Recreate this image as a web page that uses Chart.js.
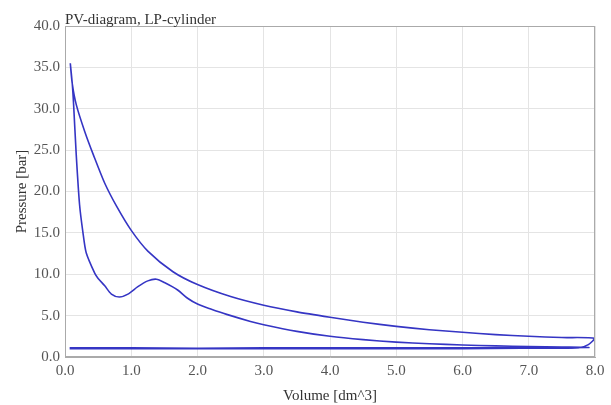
<!DOCTYPE html>
<html>
<head>
<meta charset="utf-8">
<script src="https://cdn.jsdelivr.net/npm/chart.js@4/dist/chart.umd.min.js"></script>
<style>
  html, body { margin: 0; padding: 0; background: #fff; }
  #wrap { width: 611px; height: 405px; }
</style>
</head>
<body>
<div id="wrap"><canvas id="pvChart" width="611" height="405"></canvas></div>
<script>
// volume [dm^3] and pressure [bar], traced along the loop
const volume = [
  0.07, 1.0, 2.0, 3.0, 4.0, 5.0, 6.0, 7.0, 7.75, 7.9, 8.0,
  7.5, 7.0, 6.5, 6.0, 5.5, 5.0, 4.5, 4.0, 3.5, 3.0, 2.5, 2.0, 1.63, 1.25, 1.0, 0.78, 0.6, 0.43, 0.3, 0.17, 0.11, 0.08,
  0.11, 0.13, 0.17, 0.22, 0.27, 0.32, 0.45, 0.5, 0.6, 0.7, 0.82, 0.95, 1.1, 1.25, 1.38, 1.5, 1.7, 1.85, 2.0, 2.2, 2.44, 2.8, 3.0, 3.5, 4.0, 4.5, 5.0, 5.5, 6.0, 6.5, 7.0, 7.5, 7.9,
  6.0, 4.0, 2.0, 0.07
];
const pressure = [
  1.1, 1.1, 1.05, 1.1, 1.1, 1.1, 1.1, 1.1, 1.1, 1.5, 2.25,
  2.35, 2.5, 2.7, 3.0, 3.3, 3.7, 4.2, 4.8, 5.45, 6.25, 7.3, 8.75, 10.3, 12.8, 15.3, 18.2, 21.0, 24.4, 27.2, 30.5, 33.0, 35.5,
  33.0, 30.5, 24.4, 18.4, 15.1, 12.6, 10.1, 9.5, 8.6, 7.6, 7.25, 7.6, 8.5, 9.2, 9.4, 9.0, 8.1, 7.1, 6.4, 5.8, 5.15, 4.3, 3.9, 3.1, 2.5, 2.1, 1.8, 1.6, 1.45, 1.35, 1.25, 1.2, 1.15,
  1.0, 1.0, 1.0, 1.0
];
const xTicks = [0, 1, 2, 3, 4, 5, 6, 7, 8];
const yTicks = [0, 5, 10, 15, 20, 25, 30, 35, 40];

const points = volume.map((v, i) => ({ x: v, y: pressure[i] }));
const serif = "'Liberation Serif', 'DejaVu Serif', serif";

// title sits on the top edge of the plot, left aligned with it
const cornerTitle = {
  id: 'cornerTitle',
  afterDraw(chart) {
    const c = chart.ctx;
    c.save();
    c.font = "15px " + serif;
    c.fillStyle = '#333';
    c.textBaseline = 'alphabetic';
    c.fillText('PV-diagram, LP-cylinder', chart.chartArea.left, chart.chartArea.top - 2);
    c.restore();
  }
};

new Chart(document.getElementById('pvChart'), {
  type: 'line',
  data: {
    datasets: [{
      data: points,
      borderColor: '#3535c4',
      borderWidth: 1.6,
      pointRadius: 0,
      tension: 0.25,
      fill: false
    }]
  },
  options: {
    responsive: false,
    animation: false,
    layout: { padding: { top: 26, right: 16, left: 0, bottom: 0 } },
    plugins: { legend: { display: false }, tooltip: { enabled: false } },
    scales: {
      x: {
        type: 'linear',
        min: 0, max: 8,
        afterBuildTicks: s => { s.ticks = xTicks.map(v => ({ value: v })); },
        afterFit: s => { s.height = 48; },
        ticks: { font: { family: serif, size: 15 }, color: '#555', padding: 5, callback: v => v.toFixed(1) },
        grid: { color: '#e4e4e4', drawTicks: false },
        border: { color: '#aaa' },
        title: { display: true, text: 'Volume [dm^3]', font: { family: serif, size: 15 }, color: '#333', padding: { top: 0, bottom: 0 } }
      },
      y: {
        min: 0, max: 40,
        afterBuildTicks: s => { s.ticks = yTicks.map(v => ({ value: v })); },
        afterFit: s => { s.width = 65; },
        ticks: { font: { family: serif, size: 15 }, color: '#555', padding: 5, callback: v => v.toFixed(1) },
        grid: { color: '#e4e4e4', drawTicks: false },
        border: { color: '#aaa' },
        title: { display: true, text: 'Pressure [bar]', font: { family: serif, size: 15 }, color: '#333', padding: { top: 13, bottom: 0 } }
      }
    }
  },
  plugins: [cornerTitle, {
    id: 'frame',
    afterDatasetsDraw(chart) {
      const a = chart.chartArea, c = chart.ctx;
      c.save();
      c.strokeStyle = '#aaa';
      c.lineWidth = 1;
      c.strokeRect(a.left + 0.5, a.top + 0.5, a.width - 1, a.height - 1);
      c.restore();
    }
  }]
});
</script>
</body>
</html>
